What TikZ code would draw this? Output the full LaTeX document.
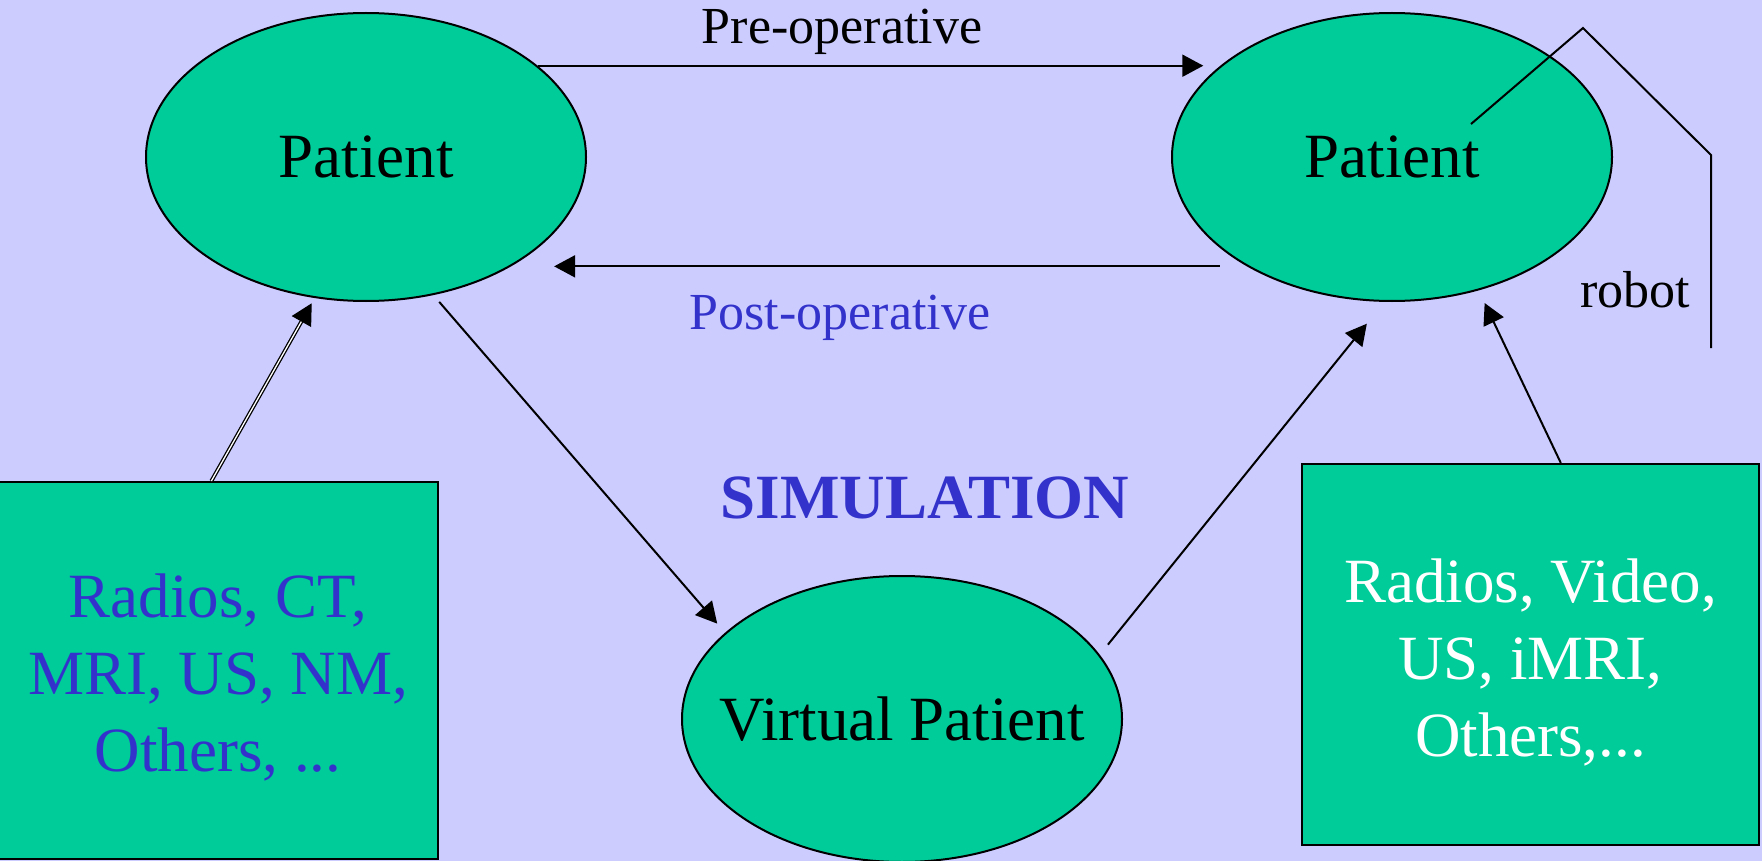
\documentclass[tikz,border=0pt]{standalone}
\usepackage{fontspec}
\setmainfont{Liberation Serif}
\usetikzlibrary{shapes,arrows.meta}
\definecolor{lavender}{HTML}{CCCCFF}
\definecolor{seagreen}{HTML}{00CC99}
\definecolor{labelblue}{HTML}{3333CC}
\newcommand{\bigsize}{\fontsize{63}{77}\selectfont}
\newcommand{\smallsize}{\fontsize{52}{62}\selectfont}
\tikzset{
	patient/.style={ellipse, draw, line width=2pt, fill=seagreen, minimum width=440pt, minimum height=288pt, inner xsep=-40pt, inner ysep=0pt, font=\bigsize},
	source/.style={rectangle, draw, line width=2pt, fill=seagreen, align=center, inner sep=0pt, font=\bigsize},
	link/.style={line width=2pt, ->},
}

\begin{document}
\begin{tikzpicture}[x=1pt, y=-1pt, >={Triangle[length=21pt,width=22pt]}]
		\fill[lavender] (0,0) rectangle (1762,861);
		\useasboundingbox (0,0) rectangle (1762,861);
		\node[patient] (lpat) at (366,157) {Patient};
		\node[patient] (rpat) at (1392,157) {Patient};
		\node[patient, minimum height=286pt] (vpat) at (902,719) {Virtual Patient};
		\node[source, text=labelblue, minimum width=440pt, minimum height=377pt] (lbox) at (218,670.5) {\rule{0pt}{57pt}Radios, CT,\\MRI, US, NM,\\Others, ...};
		\node[source, text=white, minimum width=457pt, minimum height=381pt] (rbox) at (1530.5,654.5) {\rule{0pt}{59pt}Radios, Video,\\US, iMRI,\\Others,...};
		\node[anchor=base, font=\smallsize] (preop) at (842,44) {Pre-operative};
		\node[anchor=base, font=\smallsize, text=labelblue] (postop) at (840,329) {Post-operative};
		\node[anchor=base, font=\bigsize\bfseries, text=labelblue] (sim) at (925,518) {SIMULATION};
		\node[anchor=base, font=\smallsize] (robotlbl) at (1635,307) {robot};
		\draw[link, shorten >=17pt] (lpat.28) -- (rpat.152);
		\draw[link, shorten <=27pt, shorten >=43pt] (rpat.217) -- (lpat.-37);
		\draw[link, shorten <=9pt, shorten >=12pt] (lpat.-64.2) -- (vpat.154.8);
		\draw[link, shorten <=13pt, shorten >=28pt] (vpat.18.4) -- (rpat.-93.7);
		\draw[link, shorten >=14pt] (rbox.81) -- (rpat.-57.8);
		\draw[link, line width=1.3pt, double=white, double distance=1.3pt, shorten >=6pt] (lbox.92) -- (lpat.-110);
		\coordinate (grip) at (1471,124);
		\coordinate (armend) at (1711,348);
		\draw[line width=2pt] (grip) -- (1583,28) -- (1711,155) -- (armend);
\end{tikzpicture}
\end{document}
